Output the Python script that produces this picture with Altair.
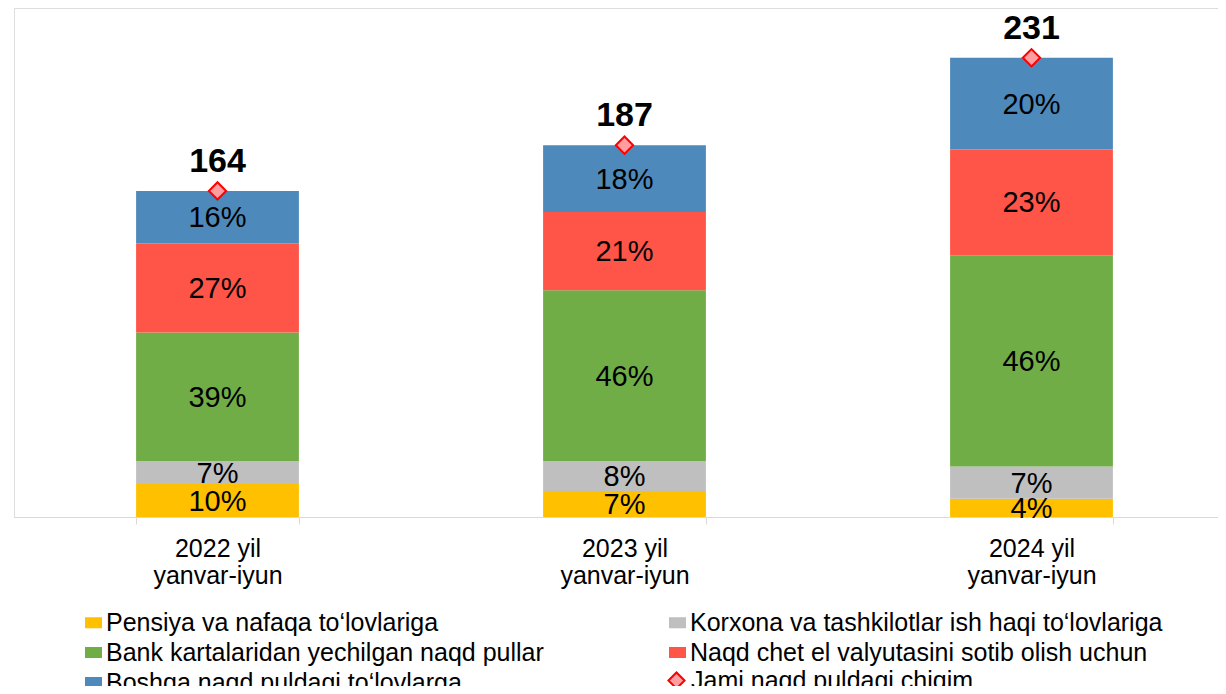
import altair as alt
import pandas as pd

years = ["2022 yil", "2023 yil", "2024 yil"]
period = "yanvar-iyun"
totals = [164, 187, 231]
categories = [
    "Pensiya va nafaqa to‘lovlariga",
    "Korxona va tashkilotlar ish haqi to‘lovlariga",
    "Bank kartalaridan yechilgan naqd pullar",
    "Naqd chet el valyutasini sotib olish uchun",
    "Boshqa naqd puldagi to‘lovlarga",
]
total_name = "Jami naqd puldagi chiqim"
pct_2022 = [10, 7, 39, 27, 16]
pct_2023 = [7, 8, 46, 21, 18]
pct_2024 = [4, 7, 46, 23, 20]
colors = ["#FFC000", "#BFBFBF", "#70AD47", "#FF5448", "#4E89BC"]
marker_fill = "#FF9DA0"
marker_stroke = "#FF0000"

FONT = "Liberation Sans"

rows = []
for yr, tot, pcts in zip(years, totals, [pct_2022, pct_2023, pct_2024]):
    s = sum(pcts)
    acc = 0.0
    for cat, p in zip(categories, pcts):
        v = tot * p / s
        rows.append({"year": yr, "cat": cat, "y0": acc, "y1": acc + v,
                     "mid": acc + v / 2, "label": f"{p}%"})
        acc += v
seg = pd.DataFrame(rows)
tot_df = pd.DataFrame({"year": years, "total": totals, "name": [total_name] * 3})

# legend fills column by column: order entries so rows read as in the original
leg_order = [0, 2, 4, 1, 3]
leg_domain = [categories[i] for i in leg_order]
leg_range = [colors[i] for i in leg_order]

x = alt.X(
    "year:N", sort=years,
    scale=alt.Scale(range=[0, 1221], paddingInner=0.6, paddingOuter=0.3),
    axis=alt.Axis(
        title=None, labelAngle=0,
        labelExpr=f"datum.label ? [datum.label, '{period}'] : ''",
        labelFont=FONT, labelFontSize=25, labelColor="#000000",
        labelLineHeight=27, labelPadding=12, labelBaseline="top",
        domainColor="#D9D9D9", tickColor="#D9D9D9", tickSize=7,
        tickBand="extent", grid=False,
    ),
)
yscale = alt.Scale(domain=[0, 256])

bars = alt.Chart(seg).mark_bar(opacity=1).encode(
    x=x,
    y=alt.Y("y0:Q", scale=yscale, axis=None),
    y2="y1:Q",
    color=alt.Color(
        "cat:N",
        scale=alt.Scale(domain=leg_domain, range=leg_range),
        legend=alt.Legend(
            orient="none", legendX=67, legendY=602, columns=2,
            columnPadding=121, rowPadding=4, title=None, padding=0,
            labelFont=FONT, labelFontSize=25, labelColor="#000000",
            symbolType="M-1,-0.65H1V0.65H-1Z", symbolSize=289,
            symbolStrokeWidth=0, labelOffset=0, labelLimit=1000,
        ),
    ),
)

pct_text = alt.Chart(seg).mark_text(
    font=FONT, fontSize=29, color="#000000", baseline="middle", dy=1
).encode(
    x=alt.X("year:N", sort=years),
    y=alt.Y("mid:Q", scale=yscale),
    text="label:N",
)

jami_legend = alt.Legend(
    orient="none", legendX=650, legendY=660, title=None, padding=0,
    labelFont=FONT, labelFontSize=25, labelColor="#000000",
    symbolSize=260, symbolStrokeWidth=2, labelOffset=2, labelLimit=1000,
)

points = alt.Chart(tot_df).mark_point(
    filled=True, size=300, opacity=1, strokeWidth=2,
).encode(
    x=alt.X("year:N", sort=years),
    y=alt.Y("total:Q", scale=yscale),
    shape=alt.Shape("name:N",
                    scale=alt.Scale(domain=[total_name], range=["diamond"]),
                    legend=jami_legend),
    fill=alt.Fill("name:N",
                  scale=alt.Scale(domain=[total_name], range=[marker_fill]),
                  legend=jami_legend),
    stroke=alt.Stroke("name:N",
                      scale=alt.Scale(domain=[total_name], range=[marker_stroke]),
                      legend=jami_legend),
)

tot_text = alt.Chart(tot_df).mark_text(
    font=FONT, fontSize=34, fontWeight="bold", color="#000000",
    baseline="alphabetic", dy=-19,
).encode(
    x=alt.X("year:N", sort=years),
    y=alt.Y("total:Q", scale=yscale),
    text="total:Q",
)

chart = alt.layer(bars, pct_text, points, tot_text).properties(
    width=1204, height=509,
    padding={"left": 6, "top": 0, "right": 0, "bottom": 169},
    autosize=alt.AutoSizeParams(type="none"),
).configure_view(stroke=None).configure(font=FONT)

chart.save("out.html", embed_options={"renderer": "svg", "actions": False})
